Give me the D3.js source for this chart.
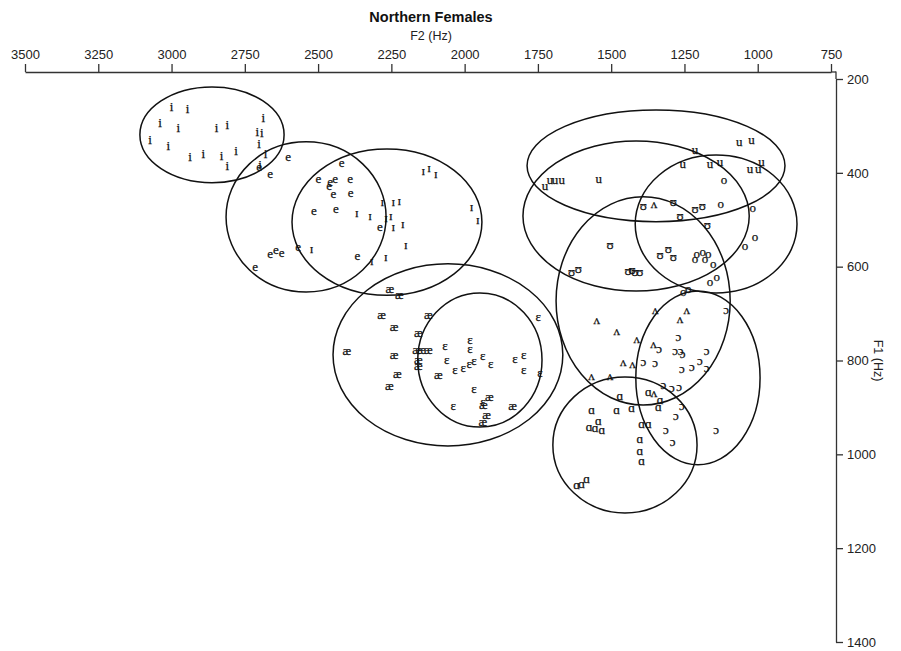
<!DOCTYPE html>
<html>
<head>
<meta charset="utf-8">
<script src="https://cdn.jsdelivr.net/npm/d3@7"></script>
<style>
  html, body { margin: 0; padding: 0; background: #fff; }
  svg { display: block; }
  .axis text { font-family: Arial, "Liberation Sans", sans-serif; font-size: 13px; fill: #222; }
  .axis path, .axis line { stroke: #333; stroke-width: 1.3px; }
  .sym { font-family: "Liberation Serif", "DejaVu Serif", serif; font-size: 13px; fill: #111; stroke: #111; stroke-width: 0.25px; }
</style>
</head>
<body>
<svg id="chart" width="901" height="651"></svg>
<script>
// ---------- data ----------
const title = "Northern Females";
const xLabel = "F2 (Hz)";
const yLabel = "F1 (Hz)";
const f2Ticks = [3500, 3250, 3000, 2750, 2500, 2250, 2000, 1750, 1500, 1250, 1000, 750];
const f1Ticks = [200, 400, 600, 800, 1000, 1200, 1400];

// ellipses: vowel, centre F2, centre F1, radius F2, radius F1 (Hz)
const ellipseVowels = ["i", "e", "ɪ", "æ", "ɛ", "u", "ʊ", "o", "ʌ", "ɔ", "ɑ"];
const ellipseF2 = [2862, 2541, 2265, 2057, 1948, 1347, 1415, 1142, 1391, 1204, 1453];
const ellipseF1 = [319, 494, 505, 788, 799, 385, 492, 509, 673, 837, 980];
const ellipseRF2 = [246, 273, 324, 392, 212, 440, 386, 276, 297, 212, 246];
const ellipseRF1 = [102, 160, 156, 194, 143, 119, 160, 147, 222, 185, 145];

// tokens: [F2, F1] per vowel
const tokens_i = [[3000,259],[2945,262],[3039,292],[2977,303],[2846,304],[2810,298],[2687,282],[3073,330],[3011,341],[2937,366],[2892,358],[2829,363],[2780,353],[2810,385],[2707,311],[2692,314],[2701,337],[2679,358],[2698,383]];
const tokens_e = [[2602,366],[2664,402],[2701,387],[2420,378],[2499,412],[2459,419],[2442,412],[2462,426],[2391,412],[2448,445],[2389,441],[2514,481],[2439,476],[2289,515],[2664,571],[2644,564],[2624,570],[2568,557],[2366,577],[2715,600]];
const tokens_I = [[2141,395],[2121,388],[2098,402],[2281,461],[2243,461],[2223,459],[2368,485],[2323,490],[2252,490],[2268,495],[2243,515],[2211,508],[2201,552],[1976,471],[1955,499],[2522,562],[2269,579],[2317,587]];
const tokens_ae = [[2255,646],[2223,660],[2283,703],[2124,703],[2241,728],[2158,741],[2402,778],[2241,787],[2164,776],[2147,776],[2124,776],[2158,797],[2158,810],[2230,827],[2090,829],[2257,854],[1916,876],[1936,893],[1836,896],[1925,916],[1938,930]];
const tokens_E = [[2067,767],[1982,756],[1982,774],[2061,797],[2033,820],[2005,814],[1984,807],[1968,799],[1938,790],[1911,807],[1828,795],[1798,788],[1798,820],[1743,826],[1749,707],[1968,859],[2039,895],[1937,888]];
const tokens_u = [[1063,334],[1021,330],[1214,350],[1256,380],[1163,380],[1129,376],[1026,390],[998,390],[987,376],[1709,415],[1692,415],[1669,415],[1726,426],[1542,413]];
const tokens_U = [[1390,469],[1288,462],[1214,476],[1189,469],[1265,490],[1172,511],[1504,552],[1333,575],[1305,561],[1288,579],[1635,611],[1612,603],[1442,609],[1429,605],[1419,611],[1402,611]];
const tokens_o = [[1115,414],[1126,465],[1017,473],[1208,571],[1188,568],[1169,571],[1214,582],[1180,582],[1152,593],[1043,554],[1009,535],[1163,632],[1140,621],[1237,646],[1254,653]];
const tokens_V = [[1354,465],[1350,691],[1242,691],[1265,710],[1549,712],[1481,735],[1413,753],[1356,763],[1459,803],[1427,807],[1567,831],[1504,832],[1354,868]];
const tokens_O = [[1108,692],[1271,749],[1336,774],[1282,779],[1263,779],[1256,786],[1174,778],[1390,803],[1350,805],[1259,817],[1225,812],[1197,799],[1174,814],[1322,852],[1293,857],[1268,856],[1259,895],[1279,918],[1313,948],[1290,973],[1142,947]];
const tokens_A = [[1470,874],[1373,867],[1333,883],[1339,897],[1567,904],[1481,904],[1430,900],[1544,928],[1575,941],[1555,942],[1532,947],[1396,934],[1373,935],[1402,966],[1402,991],[1396,1014],[1618,1064],[1601,1062],[1584,1051]];

const tokenSets = [
  ["i", tokens_i], ["e", tokens_e], ["ɪ", tokens_I], ["æ", tokens_ae], ["ɛ", tokens_E],
  ["u", tokens_u], ["ʊ", tokens_U], ["o", tokens_o], ["ʌ", tokens_V], ["ɔ", tokens_O], ["ɑ", tokens_A]
];

// ---------- drawing ----------
const svg = d3.select("#chart");
const x = d3.scaleLinear().domain([3500, 750]).range([25, 831]);
const y = d3.scaleLinear().domain([200, 1400]).range([79, 642]);
const kx = Math.abs(x(1) - x(0));
const ky = Math.abs(y(1) - y(0));

// title
svg.append("text").attr("x", 431).attr("y", 22).attr("text-anchor", "middle")
  .style("font-family", "Arial, 'Liberation Sans', sans-serif").style("font-weight", "bold")
  .style("font-size", "14.5px").style("fill", "#111").text(title);
svg.append("text").attr("x", 431).attr("y", 40).attr("text-anchor", "middle")
  .style("font-family", "Arial, 'Liberation Sans', sans-serif")
  .style("font-size", "12.5px").style("fill", "#222").text(xLabel);

// top axis
svg.append("g").attr("class", "axis").attr("transform", "translate(0,72)")
  .call(d3.axisTop(x).tickValues(f2Ticks).tickSize(8).tickSizeOuter(0).tickPadding(5).tickFormat(d3.format("d")));

// right axis
const gy = svg.append("g").attr("class", "axis").attr("transform", "translate(836,0)")
  .call(d3.axisRight(y).tickValues(f1Ticks).tickSize(7).tickSizeOuter(0).tickPadding(4).tickFormat(d3.format("d")));
gy.append("line").attr("x1", 0).attr("x2", 0).attr("y1", 72 - 0.5).attr("y2", y(200))
  .style("stroke", "#333").style("stroke-width", "1.3px");
svg.append("line").attr("x1", x(750)).attr("x2", 836).attr("y1", 72).attr("y2", 72)
  .style("stroke", "#333").style("stroke-width", "1.3px");

svg.append("text").attr("transform", "translate(878," + y(800) + ") rotate(90)")
  .attr("text-anchor", "middle").attr("dominant-baseline", "central")
  .style("font-family", "Arial, 'Liberation Sans', sans-serif")
  .style("font-size", "12.5px").style("fill", "#222").text(yLabel);

// ellipses
const ell = ellipseVowels.map((v, i) => ({ v, cx: ellipseF2[i], cy: ellipseF1[i], rx: ellipseRF2[i], ry: ellipseRF1[i] }));
svg.append("g").selectAll("ellipse").data(ell).join("ellipse")
  .attr("cx", d => x(d.cx)).attr("cy", d => y(d.cy))
  .attr("rx", d => d.rx * kx).attr("ry", d => d.ry * ky)
  .style("fill", "none").style("stroke", "#111").style("stroke-width", "1.5px");

// tokens
const pts = [];
tokenSets.forEach(([v, arr]) => arr.forEach(p => pts.push({ v, f2: p[0], f1: p[1] })));
svg.append("g").selectAll("text").data(pts).join("text")
  .attr("class", "sym")
  .attr("x", d => x(d.f2)).attr("y", d => y(d.f1))
  .attr("text-anchor", "middle").attr("dominant-baseline", "central")
  .text(d => d.v);
</script>
</body>
</html>
